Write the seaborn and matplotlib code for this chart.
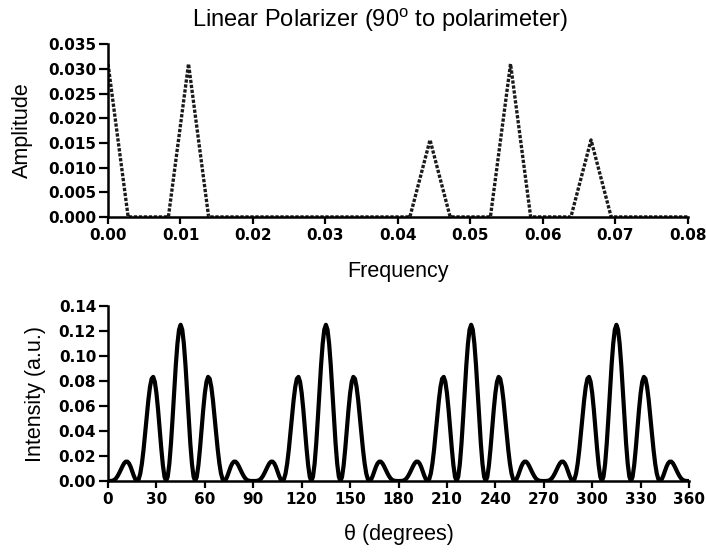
import numpy as np
import pandas as pd
import matplotlib
matplotlib.use("Agg")
import matplotlib.pyplot as plt
import seaborn as sns

# ---- data: FFT amplitude spectrum (top) ----
freq_step = 1 / 360.0
freq_index = list(range(0, 30))
amplitude = [0.031, 0, 0, 0, 0.031, 0, 0, 0, 0, 0,
             0, 0, 0, 0, 0, 0, 0.0156, 0, 0, 0,
             0.031, 0, 0, 0, 0.0156, 0, 0, 0, 0, 0]

# ---- data: intensity vs angle (bottom), one 90-degree period at 1-degree steps ----
period_intensity = [0, 0, 0.0001, 0.0003, 0.001, 0.0022, 0.0041, 0.0065, 0.0092, 0.0119,
                    0.0142, 0.0155, 0.0155, 0.0141, 0.0114, 0.0078, 0.0041, 0.0012, 0, 0.0014,
                    0.006, 0.014, 0.0249, 0.038, 0.0518, 0.0648, 0.0753, 0.0818, 0.0833, 0.0794,
                    0.0703, 0.0572, 0.0417, 0.0261, 0.0126, 0.0033, 0, 0.0035, 0.0138, 0.0299,
                    0.0501, 0.0719, 0.0927, 0.1098, 0.1211, 0.125, 0.1211, 0.1098, 0.0927, 0.0719,
                    0.0501, 0.0299, 0.0138, 0.0035, 0, 0.0033, 0.0126, 0.0261, 0.0417, 0.0572,
                    0.0703, 0.0794, 0.0833, 0.0818, 0.0753, 0.0648, 0.0518, 0.038, 0.0249, 0.014,
                    0.006, 0.0014, 0, 0.0012, 0.0041, 0.0078, 0.0114, 0.0141, 0.0155, 0.0155,
                    0.0142, 0.0119, 0.0092, 0.0065, 0.0041, 0.0022, 0.001, 0.0003, 0.0001, 0]
n_periods = 4

top_xticks = [0.00, 0.01, 0.02, 0.03, 0.04, 0.05, 0.06, 0.07, 0.08]
top_yticks = [0.000, 0.005, 0.010, 0.015, 0.020, 0.025, 0.030, 0.035]
bot_xticks = [0, 30, 60, 90, 120, 150, 180, 210, 240, 270, 300, 330, 360]
bot_yticks = [0.00, 0.02, 0.04, 0.06, 0.08, 0.10, 0.12, 0.14]

title = "Linear Polarizer (90$^{\\mathregular{o}}$ to polarimeter)"

# ---- build tables ----
df_top = pd.DataFrame({"Frequency": np.array(freq_index) * freq_step,
                       "Amplitude": amplitude})
intensity = period_intensity * n_periods + [period_intensity[0]]
df_bot = pd.DataFrame({"theta": np.arange(len(intensity)), "Intensity": intensity})

sns.set_theme(style="ticks")
plt.rcParams["font.family"] = ["Liberation Sans", "DejaVu Sans"]
plt.rcParams["mathtext.fontset"] = "custom"
plt.rcParams["mathtext.rm"] = "Liberation Sans"
plt.rcParams["text.color"] = "black"
plt.rcParams["axes.labelcolor"] = "black"

fig = plt.figure(figsize=(7.06, 5.52), dpi=100)
ax1 = fig.add_axes([0.153, 0.607, 0.821, 0.313])
ax2 = fig.add_axes([0.153, 0.1286, 0.823, 0.317])

sns.lineplot(data=df_top, x="Frequency", y="Amplitude", ax=ax1, sort=False,
             color="#1a1a1a", linewidth=2.4, linestyle=(0, (1.0, 0.5)))
sns.lineplot(data=df_bot, x="theta", y="Intensity", ax=ax2, sort=False,
             color="black", linewidth=3.0)

ax1.set_xlim(0, 0.08)
ax1.set_ylim(0, 0.035)
ax1.set_xticks(top_xticks)
ax1.set_xticklabels([f"{v:.2f}" for v in top_xticks])
ax1.set_yticks(top_yticks)
ax1.set_yticklabels([f"{v:.3f}" for v in top_yticks])
ax1.set_xlabel("Frequency", fontsize=15.5, labelpad=13)
ax1.set_ylabel("Amplitude", fontsize=15.5, labelpad=11)

ax2.set_xlim(0, 360)
ax2.set_ylim(0, 0.14)
ax2.set_xticks(bot_xticks)
ax2.set_yticks(bot_yticks)
ax2.set_yticklabels([f"{v:.2f}" for v in bot_yticks])
ax2.set_xlabel("\u03b8 (degrees)", fontsize=15.5, labelpad=12)
ax2.set_ylabel("Intensity (a.u.)", fontsize=15.5, labelpad=9)

for ax in (ax1, ax2):
    sns.despine(ax=ax)
    for sp in ("left", "bottom"):
        ax.spines[sp].set_linewidth(1.8)
        ax.spines[sp].set_color("black")
    ax.tick_params(axis="y", direction="out", length=6.5, width=1.6,
                   colors="black", pad=2)
    ax.tick_params(axis="x", direction="out", length=5, width=1.6,
                   colors="black", pad=3)
    for lab in ax.get_xticklabels() + ax.get_yticklabels():
        lab.set_fontweight("bold")
        lab.set_fontfamily("DejaVu Sans")
        lab.set_fontsize(11)

fig.text(380 / 706, 1 - 27 / 552, title, ha="center", va="baseline", fontsize=17)

fig.savefig("out.png", dpi=100)
